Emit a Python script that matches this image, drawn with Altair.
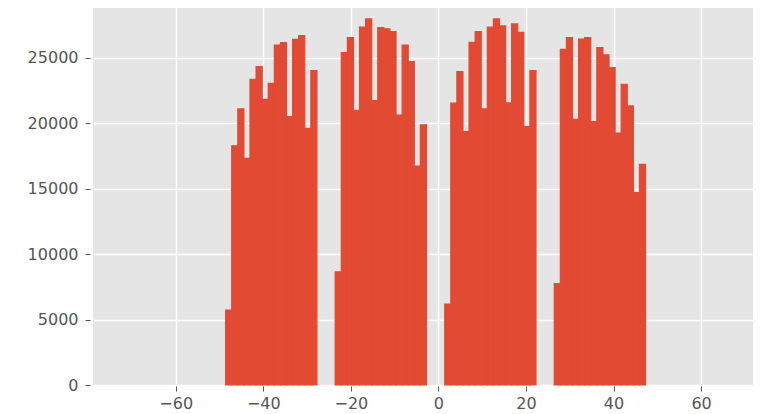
import altair as alt
import numpy as np
import pandas as pd

# Histogram bin counts (69 equal-width bins, left to right)
counts = [
    5730, 18290, 21100, 17330, 23370, 24340, 21840, 23060, 25990, 26170, 20510, 26420, 26700, 19620, 24030,
    0, 0, 0,
    8650, 25400, 26550, 21000, 27350, 27980, 21740, 27320, 27220, 27010, 20640, 25990, 24720, 16740, 19880,
    0, 0, 0,
    6190, 21540, 23950, 19370, 26200, 27010, 21100, 27350, 27980, 27450, 21560, 27600, 26960, 19750, 24030,
    0, 0, 0,
    7760, 25660, 26550, 20300, 26450, 26550, 20130, 25790, 25230, 24260, 19260, 22990, 21330, 14700, 16870,
]
bin_first_edge = -48.6
bin_width = 1.39

x_ticks = [-60, -40, -20, 0, 20, 40, 60]
y_ticks = [0, 5000, 10000, 15000, 20000, 25000]

edges = bin_first_edge + bin_width * np.arange(len(counts) + 1)
df = pd.DataFrame({"left": edges[:-1], "right": edges[1:], "count": counts})
df = df[df["count"] > 0]

axis_common = dict(
    labelFont="DejaVu Sans",
    labelFontSize=16,
    labelColor="#555555",
    tickColor="#555555",
    tickWidth=1,
    domain=False,
    grid=True,
    gridColor="#FFFFFF",
    gridWidth=1.5,
    format="d",
)

chart = (
    alt.Chart(df)
    .mark_rect(color="#E24A33", stroke="#E24A33", strokeWidth=1.2)
    .encode(
        x=alt.X(
            "left:Q",
            scale=alt.Scale(domain=[-78.9, 71.86], nice=False, zero=False),
            axis=alt.Axis(values=x_ticks, title=None, tickSize=5, labelPadding=4, offset=1, **axis_common),
        ),
        x2="right:Q",
        y=alt.Y(
            "count:Q",
            scale=alt.Scale(domain=[0, 29200], nice=False),
            axis=alt.Axis(values=y_ticks, title=None, tickSize=5, labelPadding=7, offset=3, **axis_common),
        ),
        y2=alt.datum(0),
    )
    .properties(
        width=660,
        height=382,
        background="#FFFFFF",
        autosize=alt.AutoSizeParams(type="none"),
        padding={"left": 85, "top": -5, "right": 0, "bottom": 29},
    )
    .configure_view(fill="#E5E5E5", strokeWidth=0)
)

chart.save("out.html", embed_options={"renderer": "svg", "actions": False})
